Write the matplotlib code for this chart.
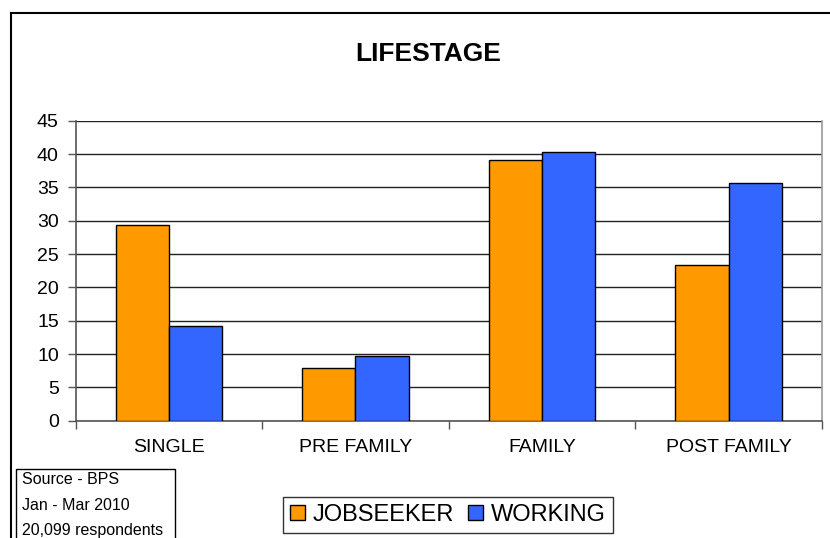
import matplotlib
matplotlib.use("Agg")
import matplotlib.pyplot as plt
import numpy as np
from matplotlib.lines import Line2D
from matplotlib.patches import Rectangle

plt.rcParams['font.family'] = ['Liberation Sans', 'DejaVu Sans']

categories = ["SINGLE", "PRE FAMILY", "FAMILY", "POST FAMILY"]
jobseeker = [29.35, 7.95, 39.15, 23.35]
working = [14.2, 9.7, 40.35, 35.7]
source_lines = ["Source - BPS", "Jan - Mar 2010", "20,099 respondents"]

W, H = 830, 538
fig = plt.figure(figsize=(W / 100, H / 100), dpi=100)

# plot area in pixel coords -> figure fractions
left, right, top, bottom = 75.5, 822, 120.7, 420.7
ax = fig.add_axes([left / W, 1 - bottom / H, (right - left) / W, (bottom - top) / H])

x = np.arange(len(categories))
width = 0.285
ax.bar(x - width / 2, jobseeker, width, color="#FF9900", edgecolor="black",
       linewidth=1, label="JOBSEEKER", zorder=3)
ax.bar(x + width / 2, working, width, color="#3366FF", edgecolor="black",
       linewidth=1, label="WORKING", zorder=3)

ax.set_xlim(-0.5, len(categories) - 0.5)
ax.set_ylim(0, 45)
ax.set_yticks(range(0, 50, 5))
ax.yaxis.grid(True, color="#222222", linewidth=1)
ax.set_axisbelow(True)

ax.set_xticks(x)
ax.set_xticklabels(categories, fontsize=14)
ax.set_xticks(np.arange(-0.5, len(categories)), minor=True)
ax.tick_params(axis="x", which="major", length=0, pad=13)
ax.tick_params(axis="x", which="minor", length=6, width=1, color="#555555")
ax.tick_params(axis="y", length=6, width=1, color="#555555", labelsize=14, pad=6)

ax.spines["top"].set_visible(False)
ax.spines["left"].set_color("#555555")
ax.spines["bottom"].set_color("#555555")
ax.spines["right"].set_color("#999999")
for s in ax.spines.values():
    s.set_linewidth(1.2)

fig.text(428 / W, 1 - 54 / H, "LIFESTAGE", fontsize=19, fontweight="bold",
         ha="center", va="center")

leg = fig.legend(loc="center", bbox_to_anchor=(448 / W, 1 - 515 / H), ncol=2,
                 fontsize=17, frameon=True, fancybox=False, edgecolor="black",
                 handlelength=0.6, handleheight=0.6, handletextpad=0.35,
                 columnspacing=0.6, borderpad=0.3, borderaxespad=0)
leg.get_frame().set_linewidth(1)

# outer chart frame (left and top edges)
fig.add_artist(Line2D([11 / W, 11 / W], [0, 1 - 12.5 / H], color="black",
                      linewidth=1.5, transform=fig.transFigure))
fig.add_artist(Line2D([11 / W, 1], [1 - 12.5 / H, 1 - 12.5 / H], color="black",
                      linewidth=1.5, transform=fig.transFigure))

# source box
fig.add_artist(Rectangle((16 / W, -0.01), (175 - 16) / W, 0.01 + (538 - 469) / H,
                         fill=False, edgecolor="black", linewidth=1,
                         transform=fig.transFigure))
for i, line in enumerate(source_lines):
    fig.text(22 / W, 1 - (484 + i * 25.5) / H, line, fontsize=11.5,
             ha="left", va="baseline")

fig.savefig("out.png", dpi=100)
